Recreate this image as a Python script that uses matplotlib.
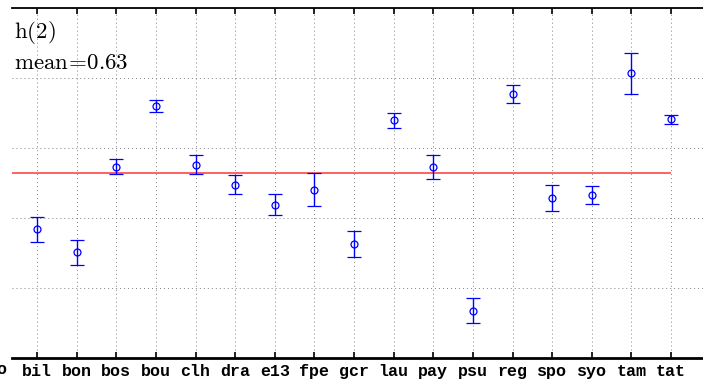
import matplotlib
matplotlib.use("Agg")
import matplotlib.pyplot as plt
import matplotlib.transforms as mtransforms

# per-site estimates of h(2) with their error half-widths
SITES = ["bil", "bon", "bos", "bou", "clh", "dra", "e13", "fpe", "gcr",
         "lau", "pay", "psu", "reg", "spo", "syo", "tam", "tat"]
H2 = [0.592, 0.5755, 0.6366, 0.680, 0.6382, 0.6238, 0.6095, 0.6202, 0.5816,
      0.6698, 0.6366, 0.5338, 0.6884, 0.6145, 0.6164, 0.7034, 0.6705]
H2_ERR = [0.009, 0.0088, 0.0055, 0.0043, 0.0067, 0.0067, 0.0075, 0.0118, 0.0094,
          0.0055, 0.0085, 0.0088, 0.0063, 0.0094, 0.0064, 0.0146, 0.003]
FIRST_SITE = "avo"   # sits left of the visible window
MEAN = 0.632
Y_TICKS = [0.50, 0.55, 0.60, 0.65, 0.70, 0.75]

plt.rcParams["mathtext.fontset"] = "cm"

W, H = 703, 385
fig = plt.figure(figsize=(W / 100, H / 100), dpi=100)
ax = fig.add_axes([12 / W, 27 / H, 1.02 - 12 / W, 350 / H])

xs = list(range(1, len(SITES) + 1))

ax.grid(True, color="#808080", linestyle=(0, (1, 3.1)), linewidth=0.7)
ax.set_axisbelow(True)

ax.hlines(MEAN, 0, len(SITES), color="#ff5555", linewidth=1.3, zorder=2)

ax.errorbar(xs, H2, yerr=H2_ERR, fmt="o", color="blue", mfc="none",
            mec="blue", ms=5, mew=0.9, elinewidth=1.0, capsize=5,
            capthick=1.0, zorder=3)

ax.set_xlim(0.3687, 18.16)
ax.set_ylim(Y_TICKS[0], Y_TICKS[-1])
ax.set_yticks(Y_TICKS)
ax.tick_params(axis="y", left=False, right=False, labelleft=False)

ax.set_xticks(xs)
ax.set_xticklabels(SITES, family="Liberation Mono", fontweight="bold",
                   fontsize=12)
ax.tick_params(axis="x", direction="in", length=4, width=1.2, top=True,
               bottom=True, pad=4, colors="black")

# label of the site just left of the window, mostly cut off
trans = mtransforms.blended_transform_factory(ax.transData, ax.transAxes)
ax.text(-0.14, -0.0115, FIRST_SITE, transform=trans, ha="center", va="top",
        family="Liberation Mono", fontweight="bold", fontsize=12,
        clip_on=False)

for side in ["left", "right"]:
    ax.spines[side].set_visible(False)
ax.spines["top"].set_linewidth(1.3)
ax.spines["bottom"].set_linewidth(2.0)

fig.text(14 / W, 1 - 38 / H, r"$\mathrm{h(2)}$", fontsize=16.5,
         ha="left", va="baseline")
fig.text(14 / W, 1 - 69 / H, r"$\mathrm{mean\!=\!%.2f}$" % MEAN,
         fontsize=16.5, ha="left", va="baseline")

fig.savefig("out.png", dpi=100, facecolor="white")
